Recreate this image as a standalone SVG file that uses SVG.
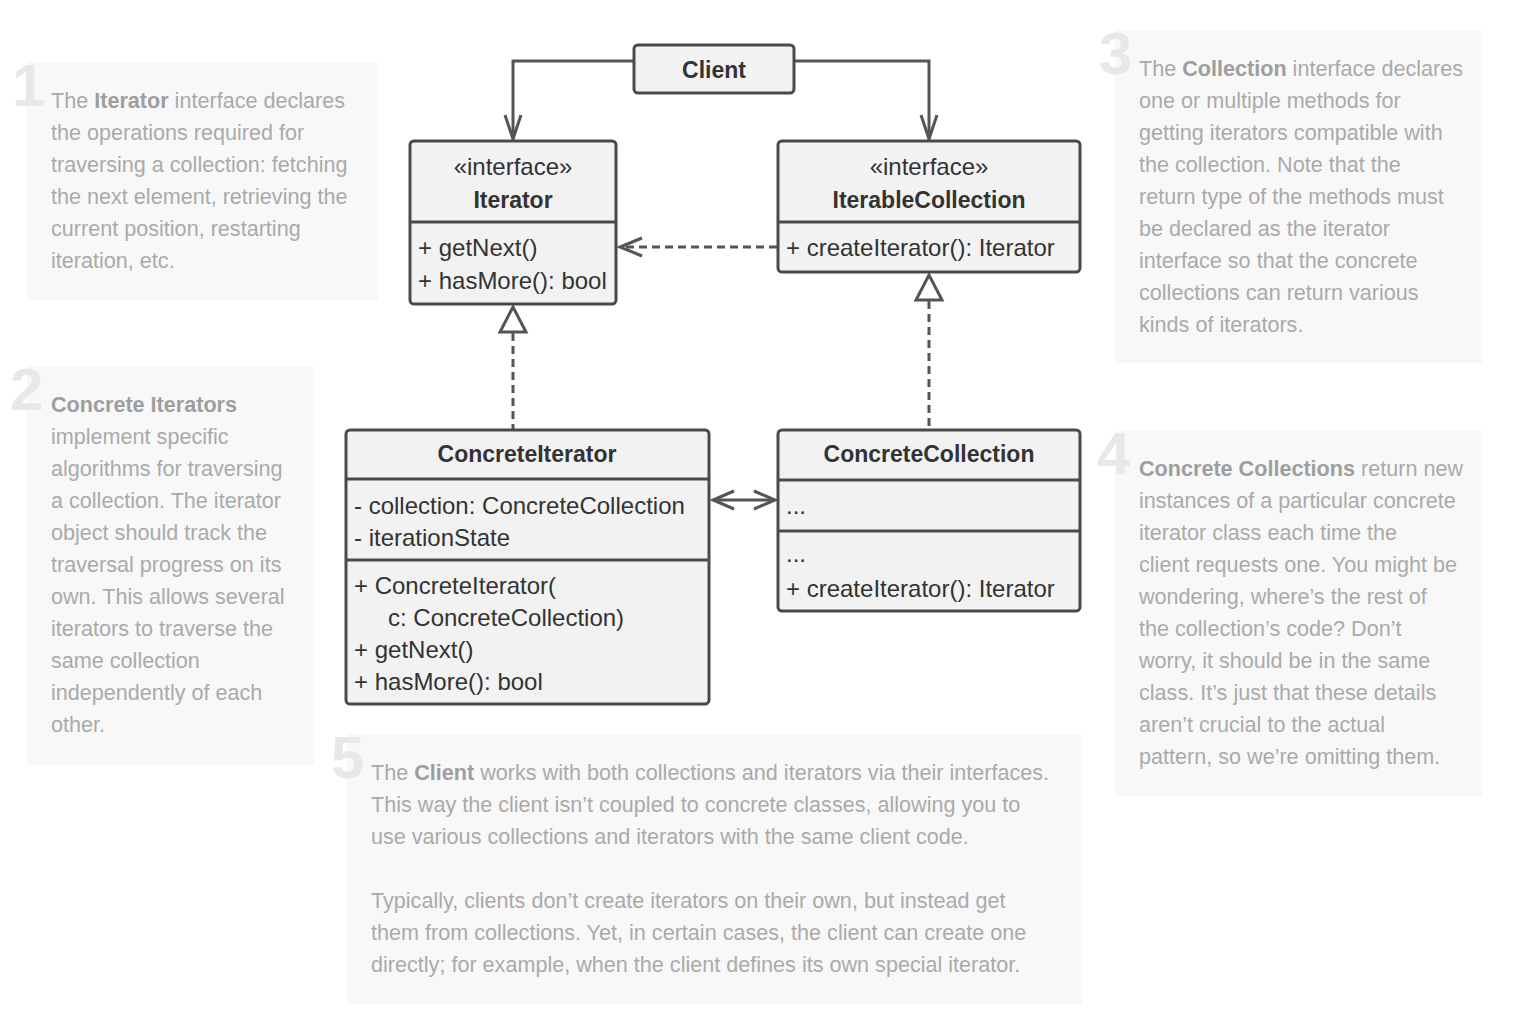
<svg xmlns="http://www.w3.org/2000/svg" width="1520" height="1010" viewBox="0 0 1520 1010">
<defs>
<style>
.bg{fill:#ffffff}
.note{fill:#f8f8f8}
.num{font-family:"Liberation Sans",Arial,sans-serif;font-weight:bold;font-size:60px;fill:#e8e8e8}
.nt{font-family:"Liberation Sans",Arial,sans-serif;font-size:21.6px;fill:#aaaaaa}
.nt .b{font-weight:bold;fill:#9e9e9e}
.box{fill:#f2f2f2;stroke:#4a4a4a;stroke-width:3}
.div{stroke:#4a4a4a;stroke-width:3}
.t{font-family:"Liberation Sans",Arial,sans-serif;font-size:24px;fill:#333333}
.tb{font-family:"Liberation Sans",Arial,sans-serif;font-size:23px;font-weight:bold;fill:#333333}
.ln{fill:none;stroke:#555555;stroke-width:3}
.dash{fill:none;stroke:#555555;stroke-width:3;stroke-dasharray:8 5}
.tri{fill:#ffffff;stroke:#555555;stroke-width:3;stroke-linejoin:miter}
</style>
</defs>
<rect class="bg" x="0" y="0" width="1520" height="1010"/>

<g id="note1">
<rect class="note" x="27" y="62" width="351" height="238"/>
<text class="num" x="12" y="106">1</text>
<text class="nt" x="51" y="108"><tspan>The </tspan><tspan class="b">Iterator</tspan><tspan> interface declares</tspan></text>
<text class="nt" x="51" y="140">the operations required for</text>
<text class="nt" x="51" y="172">traversing a collection: fetching</text>
<text class="nt" x="51" y="204">the next element, retrieving the</text>
<text class="nt" x="51" y="236">current position, restarting</text>
<text class="nt" x="51" y="268">iteration, etc.</text>
</g>

<g id="note2">
<rect class="note" x="27" y="366" width="287" height="399"/>
<text class="num" x="10" y="410">2</text>
<text class="nt" x="51" y="412"><tspan class="b">Concrete Iterators</tspan></text>
<text class="nt" x="51" y="444">implement specific</text>
<text class="nt" x="51" y="476">algorithms for traversing</text>
<text class="nt" x="51" y="508">a collection. The iterator</text>
<text class="nt" x="51" y="540">object should track the</text>
<text class="nt" x="51" y="572">traversal progress on its</text>
<text class="nt" x="51" y="604">own. This allows several</text>
<text class="nt" x="51" y="636">iterators to traverse the</text>
<text class="nt" x="51" y="668">same collection</text>
<text class="nt" x="51" y="700">independently of each</text>
<text class="nt" x="51" y="732">other.</text>
</g>

<g id="note3">
<rect class="note" x="1115" y="30" width="367" height="333"/>
<text class="num" x="1099" y="74">3</text>
<text class="nt" x="1139" y="76"><tspan>The </tspan><tspan class="b">Collection</tspan><tspan> interface declares</tspan></text>
<text class="nt" x="1139" y="108">one or multiple methods for</text>
<text class="nt" x="1139" y="140">getting iterators compatible with</text>
<text class="nt" x="1139" y="172">the collection. Note that the</text>
<text class="nt" x="1139" y="204">return type of the methods must</text>
<text class="nt" x="1139" y="236">be declared as the iterator</text>
<text class="nt" x="1139" y="268">interface so that the concrete</text>
<text class="nt" x="1139" y="300">collections can return various</text>
<text class="nt" x="1139" y="332">kinds of iterators.</text>
</g>

<g id="note4">
<rect class="note" x="1115" y="431" width="367" height="365"/>
<text class="num" x="1097" y="474">4</text>
<text class="nt" x="1139" y="476"><tspan class="b">Concrete Collections</tspan><tspan> return new</tspan></text>
<text class="nt" x="1139" y="508">instances of a particular concrete</text>
<text class="nt" x="1139" y="540">iterator class each time the</text>
<text class="nt" x="1139" y="572">client requests one. You might be</text>
<text class="nt" x="1139" y="604">wondering, where’s the rest of</text>
<text class="nt" x="1139" y="636">the collection’s code? Don’t</text>
<text class="nt" x="1139" y="668">worry, it should be in the same</text>
<text class="nt" x="1139" y="700">class. It’s just that these details</text>
<text class="nt" x="1139" y="732">aren’t crucial to the actual</text>
<text class="nt" x="1139" y="764">pattern, so we’re omitting them.</text>
</g>

<g id="note5">
<rect class="note" x="347" y="734" width="735" height="270"/>
<text class="num" x="331" y="778">5</text>
<text class="nt" x="371" y="780"><tspan>The </tspan><tspan class="b">Client</tspan><tspan> works with both collections and iterators via their interfaces.</tspan></text>
<text class="nt" x="371" y="812">This way the client isn’t coupled to concrete classes, allowing you to</text>
<text class="nt" x="371" y="844">use various collections and iterators with the same client code.</text>
<text class="nt" x="371" y="908">Typically, clients don’t create iterators on their own, but instead get</text>
<text class="nt" x="371" y="940">them from collections. Yet, in certain cases, the client can create one</text>
<text class="nt" x="371" y="972">directly; for example, when the client defines its own special iterator.</text>
</g>

<g id="connectors">
<path class="ln" d="M634,61 H513 V139"/>
<path class="ln" d="M505,115 L513,139 L521,115"/>
<path class="ln" d="M794,61 H929 V139"/>
<path class="ln" d="M921,115 L929,139 L937,115"/>
<path class="dash" d="M777,247 H622"/>
<path class="ln" d="M642,238 L620,247 L642,256"/>
<path class="dash" d="M513,333 V429"/>
<polygon class="tri" points="513,307 526,332 500,332"/>
<path class="dash" d="M929,301 V429"/>
<polygon class="tri" points="929,275 942,300 916,300"/>
<path class="ln" d="M714,500 H774"/>
<path class="ln" d="M734,491 L713,500 L734,509"/>
<path class="ln" d="M754,491 L775,500 L754,509"/>
</g>

<g id="client">
<rect class="box" x="634" y="45" width="160" height="48" rx="4"/>
<text class="tb" x="714" y="78" text-anchor="middle">Client</text>
</g>

<g id="iterator">
<rect class="box" x="410" y="141" width="206" height="163" rx="4"/>
<line class="div" x1="410" y1="222" x2="616" y2="222"/>
<text class="t" x="513" y="175" text-anchor="middle">«interface»</text>
<text class="tb" x="513" y="208" text-anchor="middle">Iterator</text>
<text class="t" x="418" y="256">+ getNext()</text>
<text class="t" x="418" y="289">+ hasMore(): bool</text>
</g>

<g id="iterableCollection">
<rect class="box" x="778" y="141" width="302" height="131" rx="4"/>
<line class="div" x1="778" y1="222" x2="1080" y2="222"/>
<text class="t" x="929" y="175" text-anchor="middle">«interface»</text>
<text class="tb" x="929" y="208" text-anchor="middle">IterableCollection</text>
<text class="t" x="786" y="256">+ createIterator(): Iterator</text>
</g>

<g id="concreteIterator">
<rect class="box" x="346" y="430" width="363" height="274" rx="4"/>
<line class="div" x1="346" y1="479" x2="709" y2="479"/>
<line class="div" x1="346" y1="560" x2="709" y2="560"/>
<text class="tb" x="527" y="462" text-anchor="middle">ConcreteIterator</text>
<text class="t" x="354" y="514">- collection: ConcreteCollection</text>
<text class="t" x="354" y="546">- iterationState</text>
<text class="t" x="354" y="594">+ ConcreteIterator(</text>
<text class="t" x="388" y="626">c: ConcreteCollection)</text>
<text class="t" x="354" y="658">+ getNext()</text>
<text class="t" x="354" y="690">+ hasMore(): bool</text>
</g>

<g id="concreteCollection">
<rect class="box" x="778" y="430" width="302" height="181" rx="4"/>
<line class="div" x1="778" y1="480" x2="1080" y2="480"/>
<line class="div" x1="778" y1="531" x2="1080" y2="531"/>
<text class="tb" x="929" y="462" text-anchor="middle">ConcreteCollection</text>
<text class="t" x="786" y="514">...</text>
<text class="t" x="786" y="562">...</text>
<text class="t" x="786" y="597">+ createIterator(): Iterator</text>
</g>
</svg>
